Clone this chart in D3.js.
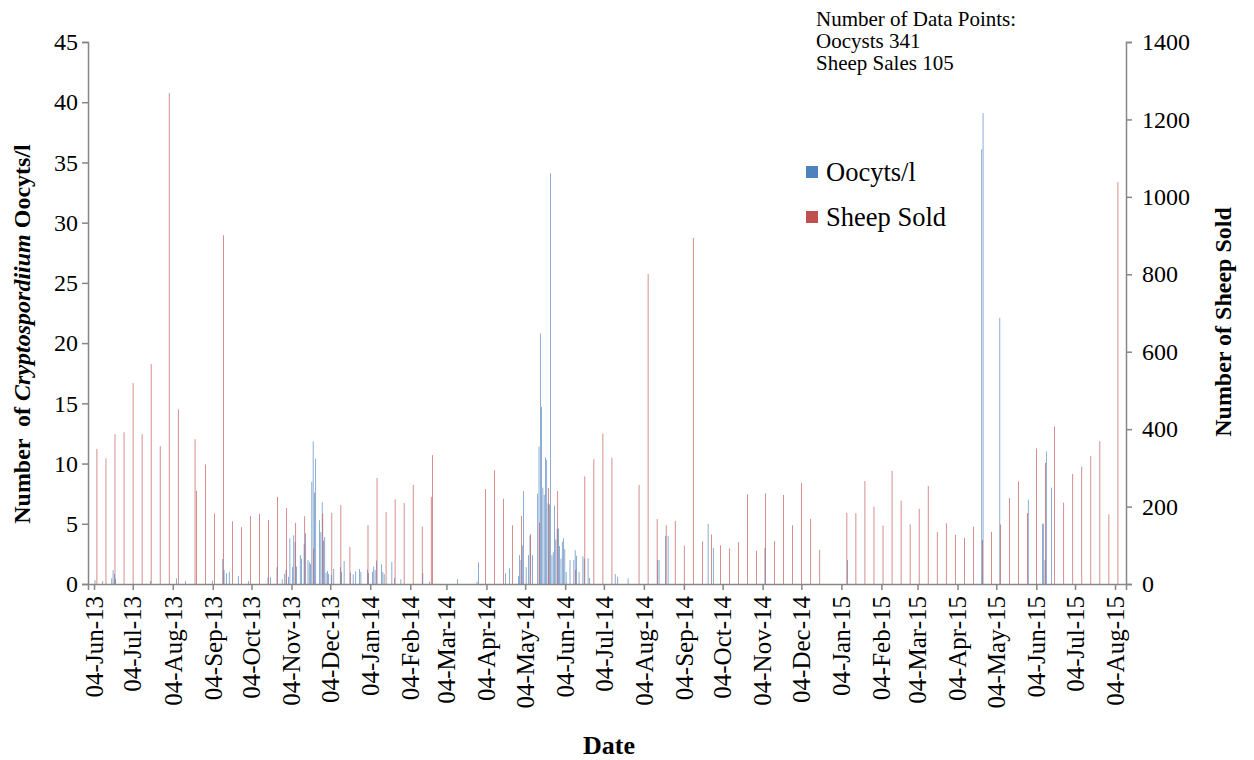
<!DOCTYPE html>
<html>
<head>
<meta charset="utf-8">
<script src="https://cdn.jsdelivr.net/npm/d3@7"></script>
<style>
  body { margin: 0; background: #fff; }
  svg { display: block; font-family: "Liberation Serif", "Times New Roman", serif; }
  .axis path, .axis line { stroke: #868686; stroke-width: 1.5; }
  .axis text { fill: #000; }
</style>
</head>
<body>
<svg id="chart" width="1254" height="760"></svg>
<script>
// sampling days are counted from 04-Jun-13 (day 0)
const startDate = Date.UTC(2013, 5, 4);

// Cryptosporidium oocysts per litre, by sampling day
const oocystDays = [
  1, 7, 14, 15, 16, 17, 44, 64, 71, 92, 100, 101, 103, 105, 112, 120,
  135, 137, 142, 146, 148, 149, 151, 152, 154, 155, 156, 157, 160, 161, 163, 164,
  166, 167, 168, 169, 170, 171, 172, 175, 176, 177, 178, 179, 180, 181, 182, 184,
  186, 191, 192, 194, 199, 201, 203, 206, 207, 212, 213, 216, 217, 218, 219, 223,
  224, 225, 231, 233, 238,
  255, 260, 282, 297, 298, 319, 322, 329, 330, 331, 332, 333, 335, 337, 338, 340,
  344, 345, 346, 347, 348, 349, 350, 351, 352, 353, 354, 355, 356, 357, 358, 359,
  360, 361, 362, 363, 364, 365, 366, 369, 372, 373, 374, 376, 379, 380, 383, 384,
  404, 406, 414, 437, 438, 443, 445, 476, 480, 520, 584,
  688, 689, 702, 724, 735, 736, 737, 738, 742
];
const oocystValues = [
  0.33, 0.25, 0.47, 1.16, 0.83, 0.4, 0.25, 0.47, 0.25, 0.28, 2.08, 1.16, 0.89, 1.0, 0.66, 0.25,
  0.55, 0.55, 1.4, 0.4, 0.83, 1.16, 0.6, 3.8, 1.4, 4.04, 3.5, 1.44, 2.4, 2.1, 3.3, 4.2,
  2.0, 1.8, 1.66, 8.5, 11.85, 7.6, 10.4, 5.3, 4.3, 6.8, 3.6, 3.9, 0.94, 1.08, 0.83, 0.75,
  1.25, 1.4, 1.0, 1.9, 0.94, 0.8, 1.05, 1.25, 1.0, 1.2, 0.9, 1.0, 1.44, 1.16, 1.94, 1.64,
  1.0, 0.83, 1.85, 0.5, 0.4,
  0.9, 0.2, 0.4, 0.2, 1.8, 0.9, 1.3, 0.66, 2.4, 2.0, 3.2, 7.7, 1.4, 2.4, 4.0, 2.4,
  7.5, 11.4, 20.8, 14.7, 8.0, 7.4, 10.5, 10.3, 6.7, 6.6, 34.1, 2.4, 2.66, 6.5, 3.7, 4.6,
  4.6, 3.15, 2.1, 3.5, 3.8, 2.9, 1.0, 2.0, 2.0, 2.8, 2.35, 1.0, 2.3, 2.1, 2.15, 0.5,
  0.83, 0.6, 0.47, 2.0, 2.0, 4.0, 4.0, 5.0, 3.0, 3.0, 2.0,
  36.1, 39.1, 22.1, 7.0, 5.0, 5.0, 2.0, 11.0, 8.0
];

// sheep sold at market, by sale day
const saleDays = [
  2, 9, 16, 23, 30, 37, 44, 51, 58, 65, 78, 79, 86, 93, 100, 107, 114, 121,
  128, 135, 142, 149, 156, 163, 170, 177, 184, 191, 198, 212, 219, 226, 233, 240,
  247, 254, 261, 262, 303, 310, 317, 324, 331, 338, 345, 352, 359, 373, 380, 387,
  394, 401, 422, 429, 436, 443, 450, 457, 464, 471, 478, 485, 492, 499, 506, 513,
  520, 527, 534, 541, 548, 555, 562, 583, 590, 597, 604, 611, 618, 625, 632, 639,
  646, 653, 660, 667, 674, 681, 688, 695, 702, 709, 716, 723, 730, 737, 744, 751,
  758, 765, 772, 779, 786, 793
];
const saleValues = [
  349, 325, 387, 392, 519, 387, 568, 356, 1268, 451, 374, 241, 309, 182, 901, 162, 147, 176,
  181, 165, 225, 196, 158, 175, 92, 182, 184, 204, 96, 152, 274, 186, 219, 209,
  256, 148, 225, 333, 245, 294, 220, 152, 176, 129, 158, 248, 240, 36, 278, 322,
  389, 326, 256, 801, 168, 152, 163, 99, 894, 110, 128, 100, 92, 108, 232, 86,
  234, 111, 230, 152, 261, 168, 88, 184, 183, 266, 200, 151, 292, 215, 154, 194,
  253, 134, 157, 127, 119, 148, 114, 135, 154, 222, 265, 183, 350, 313, 407, 210,
  284, 303, 331, 369, 180, 1038
];

const leftTicks = [0, 5, 10, 15, 20, 25, 30, 35, 40, 45];
const rightTicks = [0, 200, 400, 600, 800, 1000, 1200, 1400];
const countNotes = ["Number of Data Points:", "Oocysts 341", "Sheep Sales 105"];
const seriesNames = ["Oocyts/l", "Sheep Sold"];

const blue = "#4F81BD", red = "#C0504D";
const serif = "'Liberation Serif', 'Times New Roman', serif";
const svg = d3.select("#chart");
const plotLeft = 88, plotRight = 1126, plotTop = 42, plotBottom = 584;

const dayOf = d => new Date(startDate + d * 864e5);

const x = d3.scaleUtc()
  .domain([new Date(Date.UTC(2013, 4, 30, 8)), new Date(Date.UTC(2015, 7, 12, 12))])
  .range([plotLeft, plotRight]);
const yL = d3.scaleLinear().domain([0, 45]).range([plotBottom, plotTop]);
const yR = d3.scaleLinear().domain([0, 1400]).range([plotBottom, plotTop]);

const dayW = x(dayOf(1)) - x(dayOf(0));
const barW = dayW * 0.5;

const oocysts = oocystDays.map((d, i) => ({date: dayOf(d), value: oocystValues[i]}));
const sales = saleDays.map((d, i) => ({date: dayOf(d), value: saleValues[i]}));

svg.append("g").selectAll("rect")
  .data(oocysts)
  .join("rect")
  .attr("x", d => x(d.date) - barW)
  .attr("width", barW)
  .attr("y", d => yL(d.value))
  .attr("height", d => plotBottom - yL(d.value))
  .attr("fill", blue);

svg.append("g").selectAll("rect")
  .data(sales)
  .join("rect")
  .attr("x", d => x(d.date))
  .attr("width", barW)
  .attr("y", d => yR(d.value))
  .attr("height", d => plotBottom - yR(d.value))
  .attr("fill", red);

// axes
const monthTicks = d3.utcMonths(new Date(Date.UTC(2013, 5, 1)), new Date(Date.UTC(2015, 7, 2)))
  .map(m => new Date(Date.UTC(m.getUTCFullYear(), m.getUTCMonth(), 4)));

const xAxis = svg.append("g")
  .attr("class", "axis")
  .attr("transform", `translate(0,${plotBottom})`)
  .call(d3.axisBottom(x).tickValues(monthTicks).tickFormat(d3.utcFormat("%d-%b-%y")).tickSizeOuter(0).tickSize(6))
  .attr("font-family", serif)
  .attr("font-size", 25);
xAxis.selectAll("text")
  .attr("text-anchor", "end")
  .attr("transform", "rotate(-90)")
  .attr("x", -12)
  .attr("y", 0)
  .attr("dy", "0.33em");

svg.append("g")
  .attr("class", "axis")
  .attr("transform", `translate(${plotLeft},0)`)
  .call(d3.axisLeft(yL).tickValues(leftTicks).tickSizeOuter(0).tickSize(6).tickPadding(4))
  .attr("font-family", serif)
  .attr("font-size", 24);

svg.append("g")
  .attr("class", "axis")
  .attr("transform", `translate(${plotRight},0)`)
  .call(d3.axisRight(yR).tickValues(rightTicks).tickFormat(d3.format("d")).tickSizeOuter(0).tickSize(6).tickPadding(10))
  .attr("font-family", serif)
  .attr("font-size", 24);

// titles
const lt = svg.append("text")
  .attr("transform", `translate(30,334) rotate(-90)`)
  .attr("text-anchor", "middle")
  .attr("font-size", 24)
  .attr("font-weight", "bold")
  .attr("xml:space", "preserve");
lt.append("tspan").text("Number  of ");
lt.append("tspan").attr("font-style", "italic").text("Cryptospordiium");
lt.append("tspan").text(" Oocyts/l");

svg.append("text")
  .attr("transform", `translate(1231,322) rotate(-90)`)
  .attr("text-anchor", "middle")
  .attr("font-size", 24)
  .attr("font-weight", "bold")
  .text("Number of Sheep Sold");

svg.append("text")
  .attr("x", 609).attr("y", 754)
  .attr("text-anchor", "middle")
  .attr("font-size", 26)
  .attr("font-weight", "bold")
  .text("Date");

// note on sample counts
svg.append("g").selectAll("text")
  .data(countNotes)
  .join("text")
  .attr("x", 816)
  .attr("y", (d, i) => 26 + i * 22)
  .attr("font-size", 21)
  .text(d => d);

// legend
const legend = svg.append("g").selectAll("g")
  .data(seriesNames)
  .join("g")
  .attr("transform", (d, i) => `translate(806,${166 + i * 45})`);
legend.append("rect")
  .attr("width", 12).attr("height", 12)
  .attr("fill", (d, i) => i ? red : blue);
legend.append("text")
  .attr("x", 20).attr("y", 15)
  .attr("font-size", 26.5)
  .text(d => d);
</script>
</body>
</html>
